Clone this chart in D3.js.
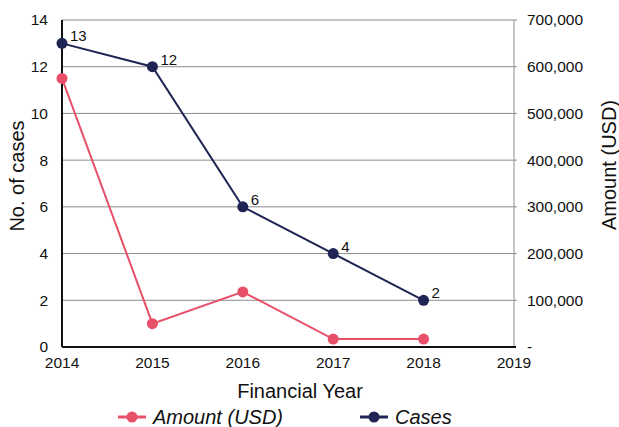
<!DOCTYPE html>
<html>
<head>
<meta charset="utf-8">
<script src="https://cdn.jsdelivr.net/npm/d3@7.9.0/dist/d3.min.js"></script>
<style>
    body { margin: 0; background: #fff; }
    svg { font-family: "Liberation Sans", Helvetica, Arial, sans-serif; }
</style>
</head>
<body>
<svg id="chart" width="619" height="427"></svg>
<script>
// Data
const years = [2014, 2015, 2016, 2017, 2018];
const cases = [13, 12, 6, 4, 2];
const amounts = [575000, 50000, 118000, 17000, 17000];
const caseTicks = [0, 2, 4, 6, 8, 10, 12, 14];
const amountTicks = [0, 100000, 200000, 300000, 400000, 500000, 600000, 700000];
const yearTicks = [2014, 2015, 2016, 2017, 2018, 2019];

const navy = '#1e2453';
const red = '#e8506a';

const svg = d3.select('#chart');
const margin = { left: 62, right: 105, top: 20, bottom: 80 };
const width = 619 - margin.left - margin.right;
const height = 427 - margin.top - margin.bottom;

const g = svg.append('g').attr('transform', `translate(${margin.left},${margin.top})`);

let x = d3.scaleLinear().domain([2014, 2019]).range([0, width]);
let yCases = d3.scaleLinear().domain([0, 14]).range([height, 0]);
let yAmount = d3.scaleLinear().domain([0, 700000]).range([height, 0]);

// Gridlines
g.selectAll('.grid')
    .data(caseTicks.slice(1))
    .join('line')
    .attr('x1', 0)
    .attr('x2', width + 3)
    .attr('y1', (d) => yCases(d))
    .attr('y2', (d) => yCases(d))
    .attr('stroke', '#8c8c8c')
    .attr('stroke-width', 1);

// Right axis line
g.append('line')
    .attr('x1', width).attr('x2', width)
    .attr('y1', 0).attr('y2', height)
    .attr('stroke', '#8c8c8c');

// Left axis
g.append('line')
    .attr('x1', 0).attr('x2', 0)
    .attr('y1', 0).attr('y2', height)
    .attr('stroke', '#111').attr('stroke-width', 2);

// Bottom axis
g.append('line')
    .attr('x1', 0).attr('x2', width + 2)
    .attr('y1', height).attr('y2', height)
    .attr('stroke', '#111').attr('stroke-width', 2);

// Left tick labels
g.selectAll('.lt')
    .data(caseTicks)
    .join('text')
    .attr('x', -14)
    .attr('y', (d) => yCases(d))
    .attr('dy', '0.35em')
    .attr('text-anchor', 'end')
    .attr('font-size', 15.5)
    .attr('fill', '#111')
    .text((d) => d);

// Right tick labels
g.selectAll('.rt')
    .data(amountTicks)
    .join('text')
    .attr('x', width + 13)
    .attr('y', (d) => yAmount(d))
    .attr('dy', '0.35em')
    .attr('font-size', 15.5)
    .attr('fill', '#111')
    .text((d) => (d === 0 ? '-' : d3.format(',')(d)));

// Bottom tick labels
g.selectAll('.bt')
    .data(yearTicks)
    .join('text')
    .attr('x', (d) => x(d))
    .attr('y', 368 - margin.top)
    .attr('text-anchor', 'middle')
    .attr('font-size', 15.5)
    .attr('fill', '#111')
    .text((d) => d);

// Axis titles
svg.append('text')
    .attr('transform', 'translate(24,176) rotate(-90)')
    .attr('text-anchor', 'middle')
    .attr('font-size', 20)
    .attr('fill', '#111')
    .text('No. of cases');

svg.append('text')
    .attr('transform', 'translate(616,165) rotate(-90)')
    .attr('text-anchor', 'middle')
    .attr('font-size', 20)
    .attr('fill', '#111')
    .text('Amount (USD)');

svg.append('text')
    .attr('x', 300)
    .attr('y', 398)
    .attr('text-anchor', 'middle')
    .attr('font-size', 20)
    .attr('fill', '#111')
    .text('Financial Year');

// Amount line
const amountLine = d3.line().x((d, i) => x(years[i])).y((d) => yAmount(d));
g.append('path')
    .datum(amounts)
    .attr('d', amountLine)
    .attr('fill', 'none')
    .attr('stroke', red)
    .attr('stroke-width', 2);
g.selectAll('.ad')
    .data(amounts)
    .join('circle')
    .attr('cx', (d, i) => x(years[i]))
    .attr('cy', (d) => yAmount(d))
    .attr('r', 5.5)
    .attr('fill', red);

// Cases line
const casesLine = d3.line().x((d, i) => x(years[i])).y((d) => yCases(d));
g.append('path')
    .datum(cases)
    .attr('d', casesLine)
    .attr('fill', 'none')
    .attr('stroke', navy)
    .attr('stroke-width', 2);
g.selectAll('.cd')
    .data(cases)
    .join('circle')
    .attr('cx', (d, i) => x(years[i]))
    .attr('cy', (d) => yCases(d))
    .attr('r', 5.5)
    .attr('fill', navy);
g.selectAll('.cl')
    .data(cases)
    .join('text')
    .attr('x', (d, i) => x(years[i]) + 8)
    .attr('y', (d) => yCases(d) - 2)
    .attr('font-size', 15)
    .attr('fill', '#111')
    .text((d) => d);

// Legend
const legend = [
    { label: 'Amount (USD)', color: red, x: 118 },
    { label: 'Cases', color: navy, x: 360 },
];
legend.forEach((d) => {
    const lg = svg.append('g').attr('transform', `translate(${d.x},417)`);
    lg.append('line').attr('x1', 0).attr('x2', 28).attr('stroke', d.color).attr('stroke-width', 3);
    lg.append('circle').attr('cx', 14).attr('r', 5.5).attr('fill', d.color);
    lg.append('text')
        .attr('x', 35)
        .attr('dy', '0.35em')
        .attr('font-size', 20)
        .attr('font-style', 'italic')
        .attr('fill', '#111')
        .text(d.label);
});
</script>
</body>
</html>
